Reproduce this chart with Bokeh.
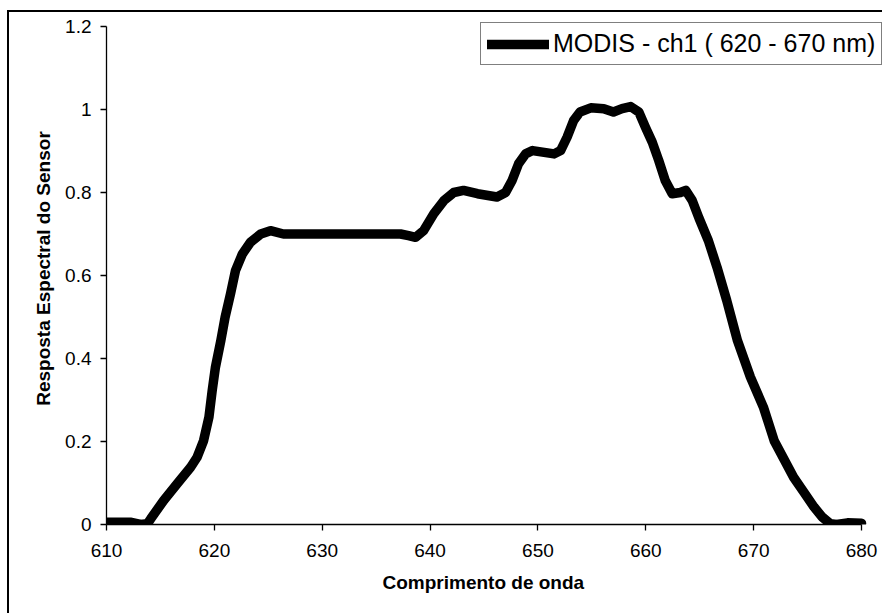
from bokeh.plotting import figure
from bokeh.models import Range1d, FixedTicker, Legend, LegendItem, Title
from bokeh.embed import file_html
from bokeh.resources import INLINE

# ---- data ----
wavelength = [610, 611, 612.2, 613.15, 613.8, 614.1, 615.3, 616.55, 617.8, 618.4,
              619.0, 619.5, 619.8, 620.1, 620.6, 621.0, 621.5, 621.96, 622.6, 623.35,
              624.3, 625.2, 626.4, 630, 635, 637.26, 638.0, 638.65, 639.4, 640.35,
              641.3, 642.2, 643.1, 644.4, 646.2, 647.0, 647.6, 648.2, 648.85, 649.5,
              651.5, 652.1, 652.7, 653.3, 653.9, 654.9, 656.1, 657.0, 657.8, 658.6,
              659.35, 659.97, 660.6, 661.2, 661.8, 662.45, 663.2, 663.7, 664.3, 664.95,
              665.8, 666.6, 667.5, 668.5, 669.7, 670.9, 671.9, 672.8, 673.7, 674.65,
              675.6, 676.35, 677.1, 677.7, 678.7, 680]
response = [0.0055, 0.0055, 0.0055, 0.0, 0.002, 0.0137, 0.058, 0.098, 0.138, 0.162,
            0.202, 0.259, 0.323, 0.379, 0.443, 0.50, 0.556, 0.612, 0.652, 0.680,
            0.700, 0.708, 0.700, 0.700, 0.700, 0.700, 0.696, 0.692, 0.708, 0.749,
            0.781, 0.800, 0.805, 0.797, 0.789, 0.800, 0.829, 0.869, 0.893, 0.901,
            0.893, 0.901, 0.933, 0.973, 0.994, 1.004, 1.002, 0.994, 1.002, 1.007,
            0.994, 0.957, 0.921, 0.877, 0.829, 0.797, 0.800, 0.805, 0.781, 0.737,
            0.684, 0.620, 0.540, 0.443, 0.355, 0.283, 0.202, 0.158, 0.114, 0.078,
            0.042, 0.018, 0.002, 0.0, 0.004, 0.003]

x_ticks = [610, 620, 630, 640, 650, 660, 670, 680]
x_tick_labels = ["610", "620", "630", "640", "650", "660", "670", "680"]
y_ticks = [0, 0.2, 0.4, 0.6, 0.8, 1.0, 1.2]
y_tick_labels = ["0", "0.2", "0.4", "0.6", "0.8", "1", "1.2"]

series_label = "MODIS - ch1 ( 620 - 670 nm)"
x_title = "Comprimento de onda"
y_title = "Resposta Espectral do Sensor"

FONT = "Liberation Sans"

# canvas is offset by the page border (9 px left, 12 px top)
p = figure(width=875, height=603, output_backend="svg", toolbar_location=None,
           x_range=Range1d(610, 682.13), y_range=Range1d(0, 1.2337),
           min_border_left=97, min_border_right=0, min_border_top=0,
           min_border_bottom=91)
p.styles = {"margin-left": "7px", "margin-top": "10px",
            "border-left": "2px solid black", "border-top": "2px solid black"}
p.outline_line_color = None
p.background_fill_color = "white"
p.border_fill_color = "white"
p.grid.visible = False

r = p.line(wavelength, response, line_color="black", line_width=9.5,
           line_join="round", line_cap="round")

for ax in (p.xaxis[0], p.yaxis[0]):
    ax.axis_line_color = "black"
    ax.axis_line_width = 1.3
    ax.major_tick_line_color = "black"
    ax.major_tick_line_width = 1.3
    ax.major_tick_out = 6
    ax.major_tick_in = 0
    ax.minor_tick_line_color = None
    ax.major_label_text_font = FONT
    ax.major_label_text_font_size = "19px"
    ax.major_label_text_color = "black"
    ax.axis_label_text_font = FONT
    ax.axis_label_text_font_size = "19px"
    ax.axis_label_text_font_style = "bold"
    ax.axis_label_text_color = "black"

p.xaxis.ticker = FixedTicker(ticks=x_ticks)
p.xaxis.bounds = (610, 680)
p.xaxis.major_label_overrides = dict(zip(x_ticks, x_tick_labels))
p.xaxis.major_label_standoff = 13

p.yaxis.ticker = FixedTicker(ticks=y_ticks)
p.yaxis.bounds = (0, 1.2)
p.yaxis.major_label_overrides = dict(zip(y_ticks, y_tick_labels))
p.yaxis.axis_label = y_title
p.yaxis.major_label_standoff = 9
p.yaxis.axis_label_standoff = 8

# x-axis title centred under the 610-680 span (frame extends further right)
xt = Title(text=x_title, align="left", offset=276,
           text_font=FONT, text_font_size="19px", text_font_style="bold",
           text_color="black", standoff=20)
p.add_layout(xt, "below")

legend = Legend(items=[LegendItem(label=series_label, renderers=[r])],
                location=(374, 459))
legend.border_line_color = "black"
legend.border_line_width = 1.3
legend.background_fill_color = "white"
legend.background_fill_alpha = 1
legend.padding = 6
legend.margin = 0
legend.spacing = 0
legend.glyph_width = 62
legend.glyph_height = 26
legend.label_standoff = 4
legend.label_text_font = FONT
legend.label_text_font_size = "25px"
legend.label_text_color = "black"
p.add_layout(legend)

open("out.html", "w").write(file_html(p, INLINE))
